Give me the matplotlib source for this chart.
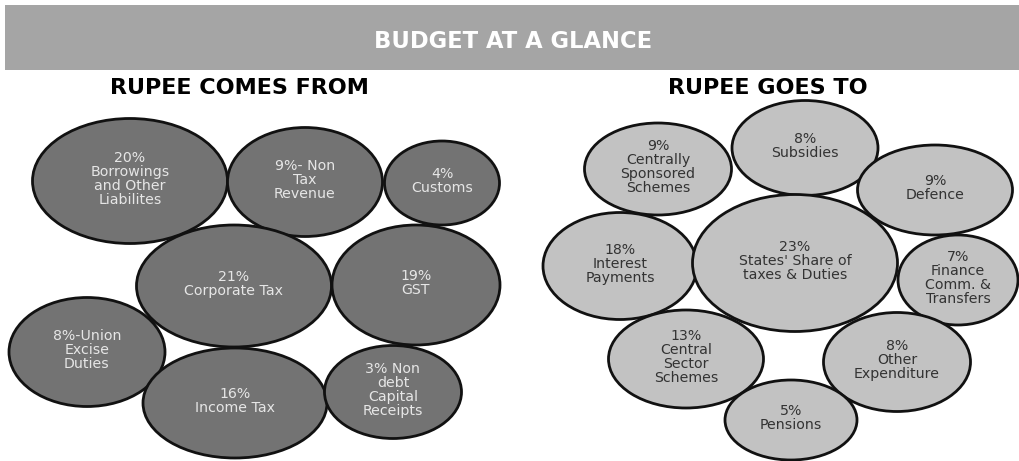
import matplotlib
matplotlib.use("Agg")
import matplotlib.pyplot as plt
from matplotlib.patches import Ellipse, Rectangle

plt.rcParams['font.family'] = ['DejaVu Sans']

# ---- data ----
title = "BUDGET AT A GLANCE"
left_title = "RUPEE COMES FROM"
right_title = "RUPEE GOES TO"

from_labels = ["20%\nBorrowings\nand Other\nLiabilites", "9%- Non\nTax\nRevenue", "4%\nCustoms",
               "21%\nCorporate Tax", "19%\nGST", "8%-Union\nExcise\nDuties",
               "16%\nIncome Tax", "3% Non\ndebt\nCapital\nReceipts"]
from_values = [20, 9, 4, 21, 19, 8, 16, 3]

to_labels = ["9%\nCentrally\nSponsored\nSchemes", "8%\nSubsidies", "9%\nDefence",
             "18%\nInterest\nPayments", "23%\nStates' Share of\ntaxes & Duties",
             "7%\nFinance\nComm. &\nTransfers", "13%\nCentral\nSector\nSchemes",
             "8%\nOther\nExpenditure", "5%\nPensions"]
to_values = [9, 8, 9, 18, 23, 7, 13, 8, 5]

# ---- layout (pixel coordinates) ----
from_cx = [130, 305, 442, 234, 416, 87, 235, 393]
from_cy = [181, 182, 183, 286, 285, 352, 403, 392]
from_w = [195, 155, 115, 195, 168, 156, 184, 137]
from_h = [125, 109, 84, 122, 120, 109, 110, 93]

to_cx = [658, 805, 935, 620, 795, 958, 686, 897, 791]
to_cy = [169, 148, 190, 266, 263, 280, 359, 362, 420]
to_w = [147, 146, 155, 154, 205, 120, 155, 147, 132]
to_h = [92, 95, 90, 107, 137, 90, 98, 99, 80]

W, H = 1020, 461
fig = plt.figure(figsize=(W / 100, H / 100), dpi=100)
ax = fig.add_axes([0, 0, 1, 1])
ax.set_xlim(0, W)
ax.set_ylim(H, 0)
ax.axis('off')

ax.add_patch(Rectangle((5, 5), 1015, 65, facecolor='#a5a5a5', edgecolor='none'))
ax.text(513, 42, title, ha='center', va='center', color='white',
        fontsize=16.3, fontweight='bold')
ax.text(239, 88, left_title, ha='center', va='center', color='black',
        fontsize=16, fontweight='bold')
ax.text(768, 88, right_title, ha='center', va='center', color='black',
        fontsize=16, fontweight='bold')

for lab, cx, cy, w, h in zip(from_labels, from_cx, from_cy, from_w, from_h):
    ax.add_patch(Ellipse((cx, cy), w, h, facecolor='#737373', edgecolor='#111111', lw=2))
    ax.text(cx, cy - 2, lab, ha='center', va='center', color='#e6e6e6',
            fontsize=10.2, linespacing=1.0)

for lab, cx, cy, w, h in zip(to_labels, to_cx, to_cy, to_w, to_h):
    ax.add_patch(Ellipse((cx, cy), w, h, facecolor='#c2c2c2', edgecolor='#111111', lw=2))
    ax.text(cx, cy - 2, lab, ha='center', va='center', color='#333333',
            fontsize=10.2, linespacing=1.0)

fig.savefig("out.png", dpi=100, facecolor='white')
